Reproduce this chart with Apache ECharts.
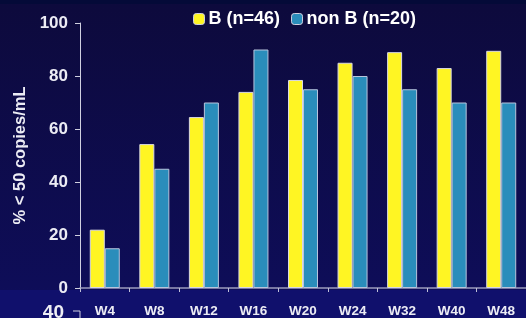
<!DOCTYPE html>
<html><head><meta charset="utf-8">
<script src="https://cdn.jsdelivr.net/npm/echarts@6/dist/echarts.min.js"></script>
<style>html,body{margin:0;padding:0;background:#0d0b40;}#c{width:526px;height:318px;}</style>
</head><body><div id="c"></div>
<script>
const categories = ['W4','W8','W12','W16','W20','W24','W32','W40','W48'];
const seriesB = [22, 54.3, 64.5, 74, 78.5, 85, 89, 83, 89.5];
const seriesNonB = [15, 45, 70, 90, 75, 80, 75, 70, 70];
const seriesNames = ['B (n=46)', 'non B (n=20)'];
const yTicks = [0, 20, 40, 60, 80, 100];
const yAxisName = '% < 50 copies/mL';
const nextChartLabel = '40';

const chart = echarts.init(document.getElementById('c'), null, {renderer: 'canvas'});
const font = 'Liberation Sans, Arial, sans-serif';
chart.setOption({
  animation: false,
  backgroundColor: {
    type: 'linear', x: 0, y: 0, x2: 0, y2: 1,
    colorStops: [{offset: 0, color: '#0d0a3c'}, {offset: 0.9, color: '#0e0d58'}, {offset: 1, color: '#0f0f62'}]
  },
  graphic: [
    {type: 'rect', left: 0, top: 0, shape: {width: 526, height: 4}, style: {fill: '#040a38'}, z: 0},
    {type: 'rect', left: 0, top: 290, shape: {width: 526, height: 28}, style: {fill: '#10106c'}, z: 0},
    {type: 'text', right: 526 - 64, top: 303, style: {text: nextChartLabel, fill: '#eeeef4', font: 'bold 19px ' + font, textAlign: 'right'}, z: 5},
    {type: 'polyline', shape: {points: [[73, 311], [80, 311], [80, 318]]}, style: {stroke: '#d0d0e0', lineWidth: 1, fill: null}, z: 5}
  ],
  legend: {
    top: 5, left: 188,
    itemWidth: 11, itemHeight: 11, itemGap: 11,
    textStyle: {color: '#ffffff', fontSize: 18, fontWeight: 'bold', fontFamily: font, padding: [0, 0, 0, -1]},
    data: seriesNames.map(n => ({name: n, itemStyle: {borderColor: '#d0d0e0', borderWidth: 1}}))
  },
  grid: {left: 80, top: 23, width: 456, height: 266, containLabel: false},
  xAxis: {
    type: 'category', data: categories,
    axisLine: {lineStyle: {color: '#9a9abc', width: 1.5}},
    axisTick: {show: true, length: 4, lineStyle: {color: '#c0c0d8'}},
    axisLabel: {color: '#ececf4', fontSize: 13.5, fontWeight: 'bold', fontFamily: font, margin: 16}
  },
  yAxis: {
    type: 'value', min: yTicks[0], max: yTicks[yTicks.length - 1], interval: 20,
    name: yAxisName, nameLocation: 'middle', nameGap: 51, nameRotate: 90,
    nameTextStyle: {color: '#ececf4', fontSize: 16.5, fontWeight: 'bold', fontFamily: font},
    axisLine: {show: true, lineStyle: {color: '#d0d0e0', width: 1}},
    axisTick: {show: true, length: 5, lineStyle: {color: '#d0d0e0'}},
    axisLabel: {color: '#ececf4', fontSize: 17, fontWeight: 'bold', fontFamily: font, margin: 12},
    splitLine: {show: false}
  },
  series: [
    {name: seriesNames[0], type: 'bar', data: seriesB, barWidth: 15, barGap: '0%',
      itemStyle: {color: '#fff523', borderColor: '#d8d8e4', borderWidth: 1}},
    {name: seriesNames[1], type: 'bar', data: seriesNonB, barWidth: 15, barGap: '0%',
      itemStyle: {color: '#2a8dbb', borderColor: '#b8c4dc', borderWidth: 1}}
  ]
});
</script></body></html>
